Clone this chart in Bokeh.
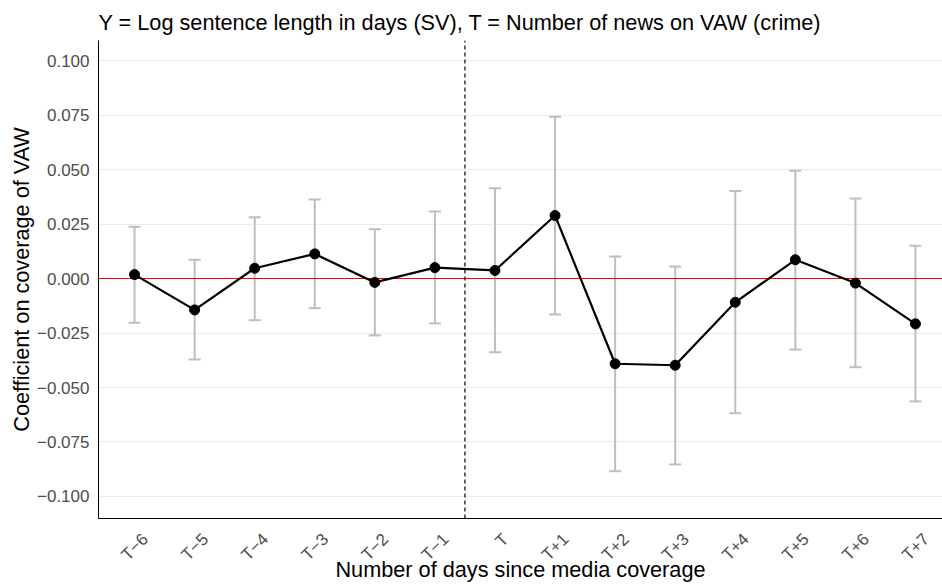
from math import pi
from bokeh.plotting import figure
from bokeh.models import ColumnDataSource, FixedTicker, Range1d, LinearAxis
from bokeh.embed import file_html
from bokeh.resources import INLINE

labels = ["T\u22126", "T\u22125", "T\u22124", "T\u22123", "T\u22122", "T\u22121", "T",
          "T+1", "T+2", "T+3", "T+4", "T+5", "T+6", "T+7"]
days = [-6, -5, -4, -3, -2, -1, 0, 1, 2, 3, 4, 5, 6, 7]
coef = [0.0018, -0.0144, 0.0047, 0.0113, -0.0018, 0.0050, 0.0037,
        0.0289, -0.0391, -0.0398, -0.0109, 0.0086, -0.0021, -0.0208]
upper = [0.0237, 0.0086, 0.0281, 0.0362, 0.0226, 0.0307, 0.0414,
         0.0742, 0.0101, 0.0055, 0.0401, 0.0495, 0.0367, 0.0150]
lower = [-0.0203, -0.0372, -0.0191, -0.0136, -0.0261, -0.0206, -0.0338,
         -0.0165, -0.0884, -0.0853, -0.0618, -0.0326, -0.0407, -0.0564]
y_ticks = [-0.1, -0.075, -0.05, -0.025, 0.0, 0.025, 0.05, 0.075, 0.1]
y_tick_labels = ["\u22120.100", "\u22120.075", "\u22120.050", "\u22120.025", "0.000",
                 "0.025", "0.050", "0.075", "0.100"]
zero_line = [0.0]
event_line = [-0.5]

FONT = "Liberation Sans"
cap = 0.1
X0, X1 = -6.6, 7.45
Y0, Y1 = -0.1101, 0.1092
label_shift = 0.18  # rotated tick labels centred on their ticks

src = ColumnDataSource(dict(
    x=days, y=coef, upper=upper, lower=lower,
    xl=[d - cap for d in days], xr=[d + cap for d in days],
))

p = figure(width=942, height=586, output_backend="svg", toolbar_location=None,
           x_range=Range1d(X0, X1), y_range=Range1d(Y0, Y1),
           x_axis_location=None,
           min_border_left=98, min_border_right=0, min_border_top=40, min_border_bottom=68,
           title="Y = Log sentence length in days (SV), T = Number of news on VAW (crime)")
p.extra_x_ranges = {"lab": Range1d(X0 - label_shift, X1 - label_shift)}
xax = LinearAxis(x_range_name="lab")
p.add_layout(xax, "below")

p.outline_line_color = None
p.background_fill_color = "white"
p.border_fill_color = "white"

p.title.text_font = FONT
p.title.text_font_size = "21.7px"
p.title.text_font_style = "normal"
p.title.text_color = "black"
p.title.offset = 0
p.title.standoff = 12

for ax in (xax, p.yaxis[0]):
    ax.axis_line_color = "black"
    ax.axis_line_width = 1
    ax.major_tick_line_color = None
    ax.minor_tick_line_color = None
    ax.major_label_text_font = FONT
    ax.major_label_text_font_size = "17px"
    ax.major_label_text_color = "#4d4d4d"
    ax.axis_label_text_font = FONT
    ax.axis_label_text_font_size = "21.7px"
    ax.axis_label_text_font_style = "normal"
    ax.axis_label_text_color = "black"

xax.ticker = FixedTicker(ticks=days)
xax.major_label_overrides = {d: l for d, l in zip(days, labels)}
xax.major_label_orientation = pi / 4
xax.axis_label = "Number of days since media coverage"
xax.major_label_standoff = 12
xax.axis_label_standoff = -17

p.yaxis.ticker = FixedTicker(ticks=y_ticks)
p.yaxis.major_label_overrides = {t: l for t, l in zip(y_ticks, y_tick_labels)}
p.yaxis.axis_label = "Coefficient on coverage of VAW"
p.yaxis.major_label_standoff = 3
p.yaxis.axis_label_standoff = 0

p.xgrid.grid_line_color = None
p.ygrid.grid_line_color = "#ebebeb"
p.ygrid.grid_line_width = 1
p.ygrid.ticker = FixedTicker(ticks=y_ticks)

# error bars
p.segment(x0="x", y0="lower", x1="x", y1="upper", source=src,
          line_color="#bebebe", line_width=2)
p.segment(x0="xl", y0="upper", x1="xr", y1="upper", source=src,
          line_color="#bebebe", line_width=2)
p.segment(x0="xl", y0="lower", x1="xr", y1="lower", source=src,
          line_color="#bebebe", line_width=2)

# reference lines
p.segment(x0=[X0], x1=[X1], y0=zero_line, y1=zero_line, line_color="#ff0000", line_width=1.2)
p.segment(x0=event_line, x1=event_line, y0=[Y0], y1=[Y1], line_color="black",
          line_width=1.2, line_dash="4 3")

p.line(x="x", y="y", source=src, line_color="black", line_width=2.2)
p.scatter(x="x", y="y", source=src, size=10, fill_color="black", line_color="black")

open("out.html", "w").write(file_html(p, INLINE))
